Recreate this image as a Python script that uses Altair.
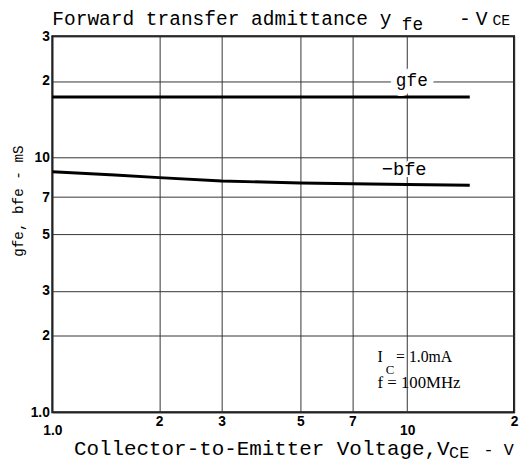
import altair as alt
import pandas as pd

# ---- data ----
vce = [1.0, 1.5, 2, 3, 5, 7, 10, 15]
gfe = [17.3, 17.3, 17.3, 17.3, 17.3, 17.3, 17.3, 17.3]
bfe = [8.8, 8.55, 8.35, 8.1, 7.95, 7.9, 7.85, 7.8]

x_ticks = [1, 2, 3, 5, 7, 10, 20]
x_tick_labels = ["1.0", "2", "3", "5", "7", "10", "2"]
y_ticks = [1, 2, 3, 5, 7, 10, 20, 30]
y_tick_labels = ["1.0", "2", "3", "5", "7", "10", "2", "3"]

curve_labels = ["gfe", "\u2212bfe"]
curve_label_x = [10.3, 9.8]
curve_label_y = [20.0, 9.0]

cond_text = ["I", "C", "= 1.0mA", "f = 100MHz"]
cond_x = [8.25, 8.7, 9.3, 8.25]
cond_y = [1.575, 1.42, 1.575, 1.249]

# ---- tables ----
lines_df = pd.DataFrame(
    {"V": vce * 2, "val": gfe + bfe, "series": ["gfe"] * len(vce) + ["bfe"] * len(vce)}
)
lab_df = pd.DataFrame({"t": curve_labels, "V": curve_label_x, "val": curve_label_y})
cond_df = pd.DataFrame({"t": cond_text, "V": cond_x, "val": cond_y})


def label_expr(values, labels):
    expr = "''"
    for v, l in reversed(list(zip(values, labels))):
        expr = f"datum.value == {v} ? '{l}' : ({expr})"
    return expr


W, H = 469, 382
xscale = alt.Scale(type="log", domain=[1, 20], nice=False)
yscale = alt.Scale(type="log", domain=[1, 30], nice=False)

xaxis = alt.Axis(
    values=x_ticks,
    labelExpr=label_expr(x_ticks, x_tick_labels),
    title=None,
    grid=True,
    ticks=False,
    domain=False,
    labelFont="Liberation Sans",
    labelFontWeight="bold",
    labelFontSize=14,
    labelColor="black",
    labelFlush=False,
    labelOverlap=False,
    labelPadding={"condition": {"test": "datum.value == 1 || datum.value == 10", "value": 12}, "value": 2},
)
yaxis = alt.Axis(
    values=y_ticks,
    labelExpr=label_expr(y_ticks, y_tick_labels),
    title="gfe, bfe - mS",
    titleFont="Liberation Mono",
    titleFontWeight="normal",
    titleFontSize=14.5,
    titleColor="black",
    titleX=-30,
    titleY=167,
    titleAngle=-90,
    titleAlign="center",
    titleBaseline="alphabetic",
    grid=True,
    ticks=False,
    domain=False,
    labelFont="Liberation Sans",
    labelFontWeight="bold",
    labelFontSize=14,
    labelColor="black",
    labelPadding=3,
    labelFlush=False,
    labelOverlap=False,
)

lines = alt.Chart(lines_df).mark_line(color="black", strokeWidth=3).encode(
    x=alt.X("V:Q", scale=xscale, axis=xaxis),
    y=alt.Y("val:Q", scale=yscale, axis=yaxis),
    detail="series:N",
)

lab_base = alt.Chart(lab_df).encode(
    x=alt.X("V:Q", scale=xscale), y=alt.Y("val:Q", scale=yscale), text="t:N"
)
gfe_halo = lab_base.transform_filter("datum.t == 'gfe'").mark_text(
    font="Liberation Mono", fontSize=18, stroke="white", strokeWidth=12, fill="white"
)
bfe_halo = lab_base.transform_filter("datum.t != 'gfe'").mark_text(
    font="Liberation Mono", fontSize=19, stroke="white", strokeWidth=4, fill="white"
)
gfe_text = lab_base.transform_filter("datum.t == 'gfe'").mark_text(
    font="Liberation Mono", fontSize=18, color="black"
)
bfe_text = lab_base.transform_filter("datum.t != 'gfe'").mark_text(
    font="Liberation Mono", fontSize=19, color="black"
)

cond_base = alt.Chart(cond_df).encode(
    x=alt.X("V:Q", scale=xscale), y=alt.Y("val:Q", scale=yscale), text="t:N"
)
cond_main = cond_base.transform_filter("datum.t == 'I' || datum.t == '= 1.0mA'").mark_text(
    font="Liberation Serif", fontSize=16, align="left", baseline="alphabetic", color="black"
)
cond_sub = cond_base.transform_filter("datum.t == 'C'").mark_text(
    font="Liberation Serif", fontSize=13, align="left", baseline="alphabetic", color="black"
)
cond_f = cond_base.transform_filter("datum.t == 'f = 100MHz'").mark_text(
    font="Liberation Serif", fontSize=17, align="left", baseline="alphabetic", color="black"
)

one = alt.Data(values=[{}])


def free_text(txt, px, py, size, font="Liberation Mono", align="left"):
    return alt.Chart(one).mark_text(
        font=font, fontSize=size, align=align, baseline="alphabetic", color="black"
    ).encode(x=alt.value(px), y=alt.value(py), text=alt.value(txt))


title_parts = [
    free_text("Forward transfer admittance y", 0, -11, 19.8),
    free_text("fe", 355, -6, 18),
    free_text("-", 413, -11, 20),
    free_text("V", 430, -11, 20),
    free_text("CE", 447, -11, 15),
    free_text("Collector-to-Emitter Voltage,V", 22, 425, 21.2),
    free_text("CE", 403, 428, 17),
    free_text("- V", 438, 425, 17),
]

chart = alt.layer(
    lines, gfe_halo, bfe_halo, gfe_text, bfe_text, cond_main, cond_sub, cond_f, *title_parts
).properties(
    width=W,
    height=H,
    background="white",
    autosize=alt.AutoSizeParams(type="none"),
    padding={"left": 45, "top": 25, "right": 7, "bottom": 57},
).configure_view(
    stroke="black", strokeWidth=2
).configure_axis(
    gridColor="#333333", gridWidth=1, gridOpacity=1
)

chart.save("out.html", embed_options={"renderer": "svg", "actions": False})
